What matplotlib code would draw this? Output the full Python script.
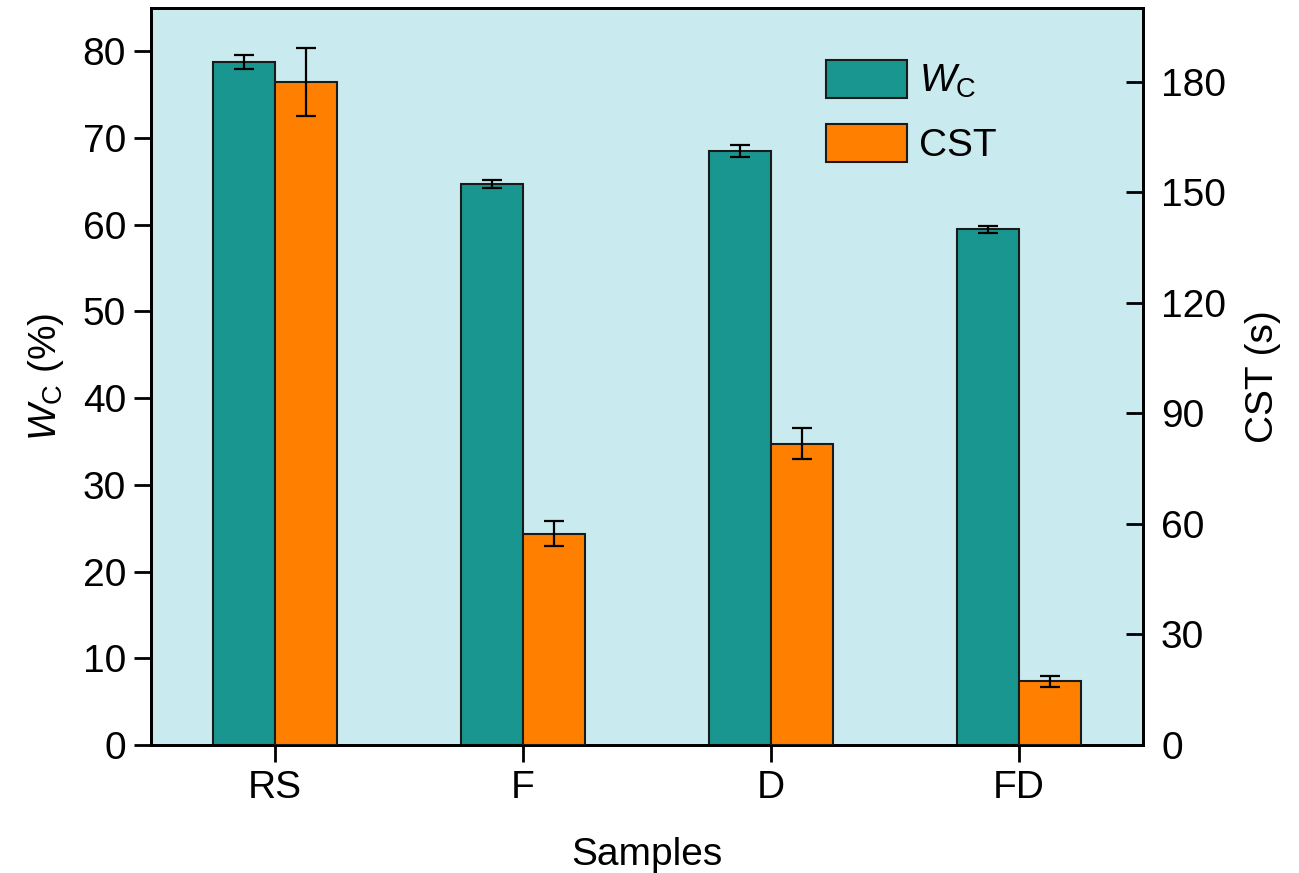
import matplotlib
matplotlib.use("Agg")
import matplotlib.pyplot as plt
import numpy as np

plt.rcParams['font.family'] = ['Liberation Sans', 'DejaVu Sans']
plt.rcParams['mathtext.fontset'] = 'custom'
plt.rcParams['mathtext.rm'] = 'Liberation Sans'
plt.rcParams['mathtext.it'] = 'Liberation Sans:italic'

samples = ['RS', 'F', 'D', 'FD']
wc = [78.8, 64.7, 68.5, 59.5]
wc_err = [0.8, 0.5, 0.7, 0.4]
cst = [180.0, 57.4, 81.8, 17.3]
cst_err = [9.2, 3.5, 4.2, 1.5]

teal = '#1A9690'
orange = '#FF8000'
bg = '#C9EAEE'

fig = plt.figure(figsize=(12.99, 8.73), dpi=100)
ax = fig.add_axes([0.1162, 0.1466, 0.7637, 0.8442])
ax2 = ax.twinx()
ax.set_facecolor(bg)

x = np.arange(len(samples))
w = 0.25
ekw = dict(elinewidth=1.6, capthick=1.6, ecolor='black')
ax.bar(x - w/2, wc, w, color=teal, edgecolor='#1a1a1a', linewidth=1.5,
       yerr=wc_err, capsize=7, error_kw=ekw, label=r'$\mathit{W}_{\mathrm{C}}$', zorder=3)
ax2.bar(x + w/2, cst, w, color=orange, edgecolor='#1a1a1a', linewidth=1.5,
        yerr=cst_err, capsize=7, error_kw=ekw, label='CST', zorder=3)

ax.set_xlim(-0.5, 3.5)
ax.set_ylim(0, 85)
ax2.set_ylim(0, 200)
ax.set_yticks(np.arange(0, 81, 10))
ax2.set_yticks(np.arange(0, 181, 30))
ax.set_xticks(x)
ax.set_xticklabels(samples)

fs = 28
ax.tick_params(axis='y', direction='out', length=12, width=2, labelsize=fs, pad=6)
ax.tick_params(axis='x', direction='out', length=12, width=2, labelsize=fs, pad=6)
ax2.tick_params(axis='y', direction='in', length=12, width=2, labelsize=fs, pad=13)
for a in (ax, ax2):
    for s in a.spines.values():
        s.set_linewidth(2)

ax.set_xlabel('Samples', fontsize=fs, labelpad=22)
ax.set_ylabel(r'$\mathit{W}_{\mathrm{C}}$ (%)', fontsize=fs, labelpad=12)
ax2.set_ylabel('CST (s)', fontsize=fs, labelpad=14)

h1, l1 = ax.get_legend_handles_labels()
h2, l2 = ax2.get_legend_handles_labels()
ax2.legend(h1 + h2, l1 + l2, loc='upper left', bbox_to_anchor=(0.68, 0.93),
           frameon=False, fontsize=fs, handlelength=2.1, handleheight=1.15,
           labelspacing=0.6, handletextpad=0.3, borderpad=0.0, borderaxespad=0.0)

fig.savefig('out.png', dpi=100)
